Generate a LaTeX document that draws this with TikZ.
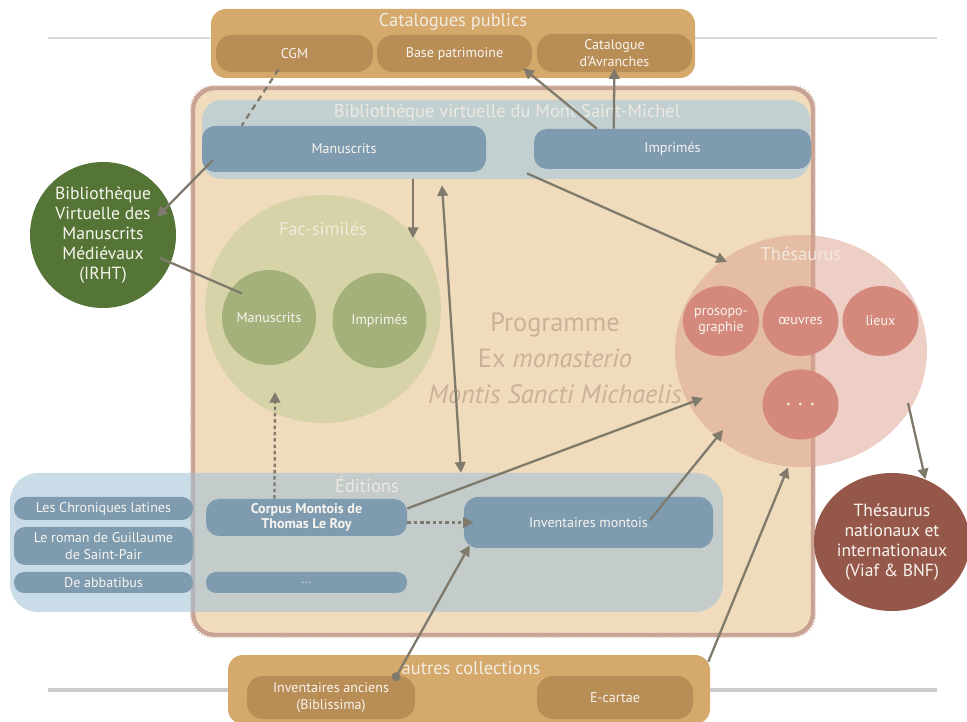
\documentclass[tikz,border=0pt]{standalone}
\usepackage{fontspec}
\setmainfont{PT Sans}
\usepackage{xcolor}
\usepackage{tikz}
\usetikzlibrary{arrows.meta,shapes.geometric}

\newlength{\pxunit}
\setlength{\pxunit}{0.02cm}

\definecolor{catfill}{HTML}{D5A96B}
\definecolor{catbox}{HTML}{B98D56}
\definecolor{progfill}{HTML}{F0DBBD}
\definecolor{progedge}{HTML}{C8A293}
\definecolor{bvfill}{HTML}{C3D0D2}
\definecolor{bluebox}{HTML}{7E9BB0}
\definecolor{bvmmgreen}{HTML}{557537}
\definecolor{facfill}{HTML}{D6D3A8}
\definecolor{facdisc}{HTML}{A4B17B}
\definecolor{thesfill}{HTML}{DCA08C}
\definecolor{thesdisc}{HTML}{D4897C}
\definecolor{natfill}{HTML}{96574B}
\definecolor{edfill}{HTML}{A1C0D7}
\definecolor{arrcol}{HTML}{7F7A6B}
\definecolor{progtxt}{HTML}{CBB09A}
\definecolor{lblcol}{HTML}{F8F4EE}
\definecolor{ttlcol}{HTML}{F2ECE2}

\begin{document}
\begin{tikzpicture}[x=\pxunit, y=-\pxunit,
                    panel/.style n args={3}{rectangle,fill=#1,
                    minimum width=#2\pxunit,
                    minimum height=#3\pxunit,
                    rounded corners=13\pxunit,
                    inner sep=0pt,align=center,
                    text=lblcol,font=\fontsize{8}{9.5}\selectfont},
                    disc/.style n args={3}{ellipse,fill=#1,
                    minimum width=#2\pxunit,
                    minimum height=#3\pxunit,
                    inner sep=0pt,align=center,
                    text=lblcol,font=\fontsize{8}{9}\selectfont},
                    ttl/.style={text=ttlcol,font=\fontsize{10.5}{12}\selectfont},
                    arr/.style={draw=arrcol,line width=1.3pt,
                    -{Triangle[length=6pt,width=6pt]}},
                    dots/.style={dash pattern=on 2pt off 1.6pt},
                    dashes/.style={dash pattern=on 3.5pt off 2.5pt}]
    \useasboundingbox (0,0) rectangle (967,722);
    \draw[color=black!15,line width=0.6pt] (48,38) -- (937,38);
    \draw[color=black!20,line width=2.8pt] (48,690) -- (937,690);

    \node[panel={catfill}{484}{69},rounded corners=15\pxunit] (cat) at (453,43.5) {};
    \node[ttl] (catttl) at (453,21.5) {Catalogues publics};
    \node[panel={catbox}{157}{37},rounded corners=16\pxunit] (cgm) at (294.5,53.5) {CGM};
    \node[panel={catbox}{155}{37},rounded corners=16\pxunit] (bpat) at (454.5,53.5) {Base patrimoine};
    \node[panel={catbox}{155}{38},rounded corners=16\pxunit] (cavr) at (614.5,53) {Catalogue\\d’Avranches};

    \node[panel={progfill}{620}{547},draw=progedge,line width=2.5pt,rounded corners=22\pxunit] (prog) at (503,361.5) {};
    \draw[progedge!60!white,line width=1pt,rounded corners=22\pxunit,dash pattern=on 0.7pt off 1.1pt]
        (prog.south west) rectangle (prog.north east);

    \node[panel={bvfill}{608}{79},rounded corners=20\pxunit] (bv) at (506,139.5) {};
    \node[ttl,text=ttlcol!90!bvfill] (bvttl) at (507,112.5) {Bibliothèque virtuelle du Mont Saint-Michel};
    \node[panel={bluebox}{284}{46}] (bvman) at (344,149) {Manuscrits};
    \node[panel={bluebox}{277}{40}] (bvimp) at (672.5,149) {Imprimés};

    \node[disc={bvmmgreen}{146}{146},font=\fontsize{10}{11.3}\selectfont] (bvmm) at (103,235)
        {Bibliothèque\\Virtuelle des\\Manuscrits\\Médiévaux\\(IRHT)};

    \node[disc={facfill}{236}{228}] (fac) at (323,309) {};
    \node[ttl,text=ttlcol!90!facfill] (facttl) at (323,229) {Fac-similés};
    \node[disc={facdisc}{94}{95}] (facman) at (269,317.5) {Manuscrits};
    \node[disc={facdisc}{94}{95}] (facimp) at (379.5,320.5) {Imprimés};

    \node[text=progtxt,align=center,font=\fontsize{15}{20.5}\selectfont] (progttl) at (555,358)
        {Programme\\Ex \textit{monasterio}\\\textit{Montis Sancti Michaelis}};

    \node[disc={thesfill}{252}{232},fill opacity=0.5] (thes) at (801,351) {};
    \node[ttl,text=ttlcol!95!thesfill] (thesttl) at (801,254) {Thésaurus};
    \node[disc={thesdisc}{76}{70}] (prosop) at (721,321) {prosopo-\\graphie};
    \node[disc={thesdisc}{76}{70}] (oeuv) at (800.5,321) {œuvres};
    \node[disc={thesdisc}{76}{70}] (lieux) at (880.5,321) {lieux};
    \node[disc={thesdisc}{76}{70},font=\fontsize{12}{12}\selectfont] (tdots) at (800.5,404.5) {. . .};

    \node[disc={natfill}{136}{138},font=\fontsize{10}{11.3}\selectfont] (tnat) at (892,542)
        {Thésaurus\\nationaux et\\internationaux\\(Viaf \& BNF)};

    \node[panel={edfill}{713}{139},fill opacity=0.55,rounded corners=28\pxunit] (ed) at (366.5,542.5) {};
    \node[ttl,text=ttlcol!90!bvfill] (edttl) at (367,485) {Éditions};
    \node[panel={bluebox}{179}{23},rounded corners=11\pxunit] (chron) at (103.5,508.5) {Les Chroniques latines};
    \node[panel={bluebox}{179}{38},rounded corners=11\pxunit] (roman) at (103.5,546) {Le roman de Guillaume\\de Saint-Pair};
    \node[panel={bluebox}{179}{21},rounded corners=10\pxunit] (abbat) at (103.5,582.5) {De abbatibus};
    \node[panel={bluebox}{201}{37},font=\fontsize{8}{9}\selectfont\bfseries] (corpus) at (306.5,517.5) {Corpus Montois de\\Thomas Le Roy};
    \node[panel={bluebox}{201}{21},rounded corners=10\pxunit,text=lblcol!70!bluebox] (edots) at (306.5,582.5) {\dots};
    \node[panel={bluebox}{249}{51},rounded corners=14\pxunit] (invm) at (588.5,522.5) {Inventaires montois};

    \node[panel={catfill}{482}{69},rounded corners=15\pxunit] (autres) at (469,689.5) {};
    \node[ttl] (autttl) at (471,668) {autres collections};
    \node[panel={catbox}{168}{43},rounded corners=16\pxunit] (invanc) at (331,697.5) {Inventaires anciens\\(Biblissima)};
    \node[panel={catbox}{156}{43},rounded corners=16\pxunit] (ecart) at (615,697.5) {E-cartae};

    \draw[arr,-,dashes] ([xshift=-16\pxunit,yshift=3\pxunit]cgm.south) -- ([xshift=40\pxunit]bvman.north west);
    \draw[arr] ([xshift=11\pxunit,yshift=12\pxunit]bvman.south west) -- ([xshift=54\pxunit,yshift=18\pxunit]bvmm.center);
    \draw[arr,-] ([xshift=57\pxunit,yshift=-23\pxunit]bvmm.center) -- ([xshift=-27\pxunit,yshift=24\pxunit]facman.center);
    \draw[arr] ([xshift=63\pxunit]bvimp.north west) -- ([xshift=-9\pxunit,yshift=4\pxunit]bpat.south east);
    \draw[arr] ([xshift=80\pxunit]bvimp.north west) -- ([yshift=4\pxunit]cavr.south);
    \draw[arr] ([xshift=21\pxunit,yshift=6\pxunit]bv.south) -- ([xshift=-74\pxunit,yshift=89\pxunit]thes.center);
    \draw[arr] ([xshift=-93\pxunit]bv.south) -- ([xshift=90\pxunit,yshift=71\pxunit]fac.center);
    \draw[arr,{Triangle[length=6pt,width=6pt]}-{Triangle[length=6pt,width=6pt]}]
        ([xshift=-64\pxunit,yshift=-6\pxunit]bv.south) -- ([xshift=94.5\pxunit]ed.north);
    \draw[arr,dots] ([xshift=-32\pxunit]corpus.north) -- ([xshift=-48\pxunit,yshift=-83\pxunit]fac.center);
    \draw[arr] ([yshift=9\pxunit]corpus.east) -- ([xshift=-98\pxunit,yshift=-47\pxunit]thes.center);
    \draw[arr,dots] ([yshift=-5\pxunit]corpus.east) -- ([xshift=10\pxunit]invm.west);
    \draw[arr] ([xshift=61\pxunit,yshift=2\pxunit]invm.center) -- ([xshift=-78\pxunit,yshift=-79\pxunit]thes.center);
    \draw[arr,{Circle[length=5pt]}-{Triangle[length=6pt,width=6pt]}]
        ([xshift=63\pxunit,yshift=17\pxunit]invanc.center) -- ([xshift=6\pxunit,yshift=3\pxunit]invm.south west);
    \draw[arr] ([xshift=-2\pxunit,yshift=-7\pxunit]autres.north east) -- ([xshift=-13\pxunit]thes.south);
    \draw[arr] ([xshift=107\pxunit,yshift=-52\pxunit]thes.center) -- (tnat.62);
\end{tikzpicture}
\end{document}
